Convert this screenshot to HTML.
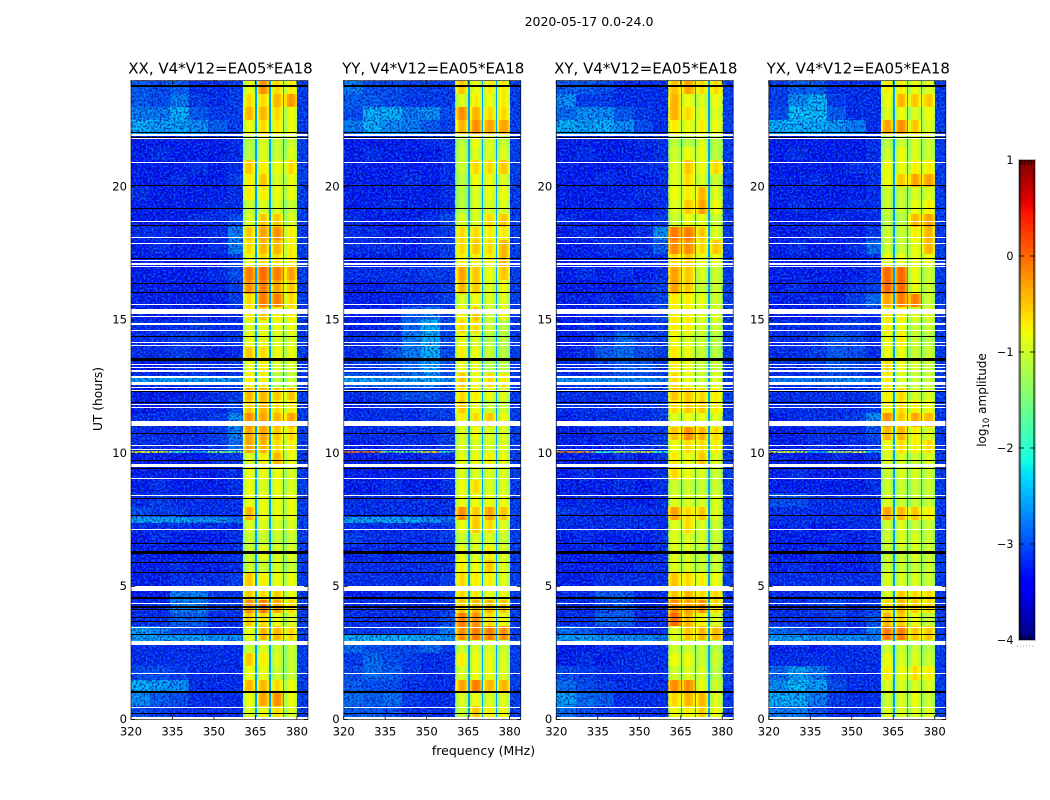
<!DOCTYPE html>
<html lang="en">
<head>
<meta charset="utf-8">
<title>2020-05-17 0.0-24.0</title>
<style>
html,body{margin:0;padding:0;background:#fff;width:1050px;height:800px;overflow:hidden}
svg{display:block}
text{font-family:"DejaVu Sans","Liberation Sans",sans-serif;fill:#000}
</style>
</head>
<body>
<svg id="chart" width="1050" height="800" viewBox="0 0 1050 800" xmlns="http://www.w3.org/2000/svg">
<defs>
<filter id="speckle-dark" x="0" y="0" width="100%" height="100%" color-interpolation-filters="sRGB">
<feTurbulence type="fractalNoise" baseFrequency="0.5" numOctaves="1" seed="4"/>
<feColorMatrix type="matrix" values="0 0 0 0 0  0 0 0 0 0.02  0 0 0 0 0.55  5 0 0 0 -2.2"/>
</filter>
<filter id="speckle-light" x="0" y="0" width="100%" height="100%" color-interpolation-filters="sRGB">
<feTurbulence type="fractalNoise" baseFrequency="0.5" numOctaves="1" seed="11"/>
<feColorMatrix type="matrix" values="0 0 0 0 0.1  0 0 0 0 0.62  0 0 0 0 1  5 0 0 0 -2.3"/>
</filter>
</defs>
<text x="589" y="26" font-size="12.5" text-anchor="middle">2020-05-17 0.0-24.0</text>
<text x="483.5" y="755" font-size="12.5" text-anchor="middle">frequency (MHz)</text>
<text transform="translate(102,399) rotate(-90)" font-size="12.2" text-anchor="middle">UT (hours)</text>
<text transform="translate(986,400) rotate(-90)" font-size="12" text-anchor="middle">log<tspan font-size="8.5" dy="3">10</tspan><tspan dy="-3"> amplitude</tspan></text>
<g id="panels"></g>
<g id="colorbar"></g>
</svg>
<script>
/* Axis ticks */
const freqTicks = [320, 335, 350, 365, 380];
const hourTicks = [0, 5, 10, 15, 20];
const colorbarTicks = [-4, -3, -2, -1, 0, 1];

/* Column definitions in MHz */
const backgroundEdges = [320, 327, 334, 341, 348, 355, 360.4];
const windowStarts = [360.4, 365.5, 370.5, 375.5];
const windowEnds = [365, 370, 375, 380.2];
const bandShape = [-0.35, -0.05, 0.05, 0.05, -0.05, -0.25];
const dipLevel = -2.6;
const tailLevel = -3.1;
const backgroundShift = -0.2;
const windowShift = 0.06;
const freqEnd = 384;

/* Row start times in hours, top to bottom; each row spans rowStep */
const rowStep = 0.5;
const rowHours = [23.5,23,22.5,22,21.5,21,20.5,20,19.5,19,18.5,18,17.5,17,16.5,16,15.5,15,14.5,14,13.5,13,12.5,12,11.5,11,10.5,10,9.5,9,8.5,8,7.5,7,6.5,6,5.5,5,4.5,4,3.5,3,2.5,2,1.5,1,0.5,0];

/* log10 amplitude per row: six background columns then four spectral windows */
const levelsXX = [
[-2.7,-2.8,-2.7,-3,-3,-2.9,-0.9,-0.3,-0.7,-0.8],
[-2.7,-2.8,-2.5,-2.9,-3,-2.9,-0.7,-0.7,-0.5,-0.35],
[-2.5,-2.5,-2.2,-2.7,-2.9,-2.9,-0.5,-0.5,-0.7,-0.9],
[-2.2,-2.3,-2.3,-2.4,-2.7,-2.9,-0.9,-0.7,-0.8,-0.9],
[-3.1,-3.1,-3.1,-3.1,-3.1,-3,-1.2,-1,-1.1,-1.1],
[-3.1,-3,-3.1,-3.1,-3.1,-3,-1.2,-1,-1.1,-1],
[-3.1,-3.1,-3.1,-3,-3.1,-3,-0.6,-0.8,-0.9,-0.7],
[-3.1,-3.1,-3,-3.1,-3.1,-2.9,-0.8,-0.6,-1,-0.9],
[-3,-3.1,-3.1,-3.1,-3.1,-3,-0.8,-0.8,-0.9,-0.9],
[-3.1,-3.1,-3.1,-3.1,-3,-3,-1.1,-1,-1,-1.1],
[-3.1,-3.1,-3.1,-3,-3,-2.8,-1,-0.6,-0.6,-1],
[-3,-3,-3.1,-3.1,-3,-2.5,-0.6,-0.4,-0.3,-0.8],
[-3.1,-3,-3.1,-3.1,-3,-2.5,-0.7,-0.5,-0.5,-0.8],
[-3.1,-3.1,-3.1,-3.1,-3.1,-2.9,-0.9,-0.7,-0.7,-0.8],
[-3.1,-3.1,-3.1,-3.1,-3,-2.8,-0.2,-0.1,-0.2,-0.4],
[-3.1,-3.1,-3.1,-3.1,-3.1,-2.9,-0.3,-0.2,-0.4,-0.6],
[-3.1,-3.1,-3.1,-3.1,-3.1,-2.9,-0.7,-0.2,-0.2,-0.7],
[-3.1,-3.1,-3.1,-3,-3.1,-3,-0.8,-0.6,-0.8,-0.8],
[-3,-3,-3,-2.9,-3,-3,-1,-0.9,-0.9,-0.9],
[-3,-3,-2.9,-2.9,-3,-2.9,-0.9,-0.9,-1,-1],
[-3,-3,-2.9,-3,-3.1,-3,-0.6,-0.7,-0.9,-0.9],
[-3.1,-3.1,-3,-3,-3,-2.9,-0.9,-0.8,-1,-1],
[-3,-3,-3,-2.9,-3,-2.9,-0.8,-0.8,-1.2,-1.1],
[-3.1,-3.1,-3.1,-3.1,-3,-2.9,-0.5,-0.5,-0.6,-0.6],
[-3.1,-3.1,-3,-3,-3,-2.8,-0.6,-0.5,-0.7,-0.8],
[-3,-3,-3,-3,-2.9,-2.4,-0.3,-0.4,-0.5,-0.4],
[-3,-3,-3,-3,-2.9,-2.5,-0.4,-0.4,-0.6,-0.7],
[-3,-3,-3,-3,-2.9,-2.6,-0.4,-0.5,-0.7,-0.8],
[-3.1,-3.1,-3.1,-3.1,-3,-2.9,-1,-0.8,-0.5,-0.9],
[-3.1,-3.1,-3.1,-3.1,-3.1,-3,-0.9,-0.9,-0.9,-1],
[-3.1,-3,-3.1,-3.1,-3.1,-3,-0.9,-1,-0.9,-1],
[-3,-2.9,-3,-3,-3,-3,-0.9,-0.9,-0.9,-0.9],
[-2.8,-2.9,-2.9,-3,-3,-3,-0.5,-0.9,-0.9,-0.9],
[-3,-3,-3,-3,-3,-3,-1,-1,-1,-1],
[-3.1,-3,-3.1,-3.1,-3.1,-3,-1.1,-1.1,-1.1,-1.1],
[-3.1,-3.1,-3.1,-3.1,-3,-3,-1.1,-0.9,-1,-1],
[-3.1,-3.1,-3,-3.1,-3.1,-3,-1.1,-1.1,-1,-1.1],
[-3.1,-3.1,-3,-3,-3,-2.9,-0.6,-0.8,-0.9,-0.9],
[-3.1,-3.1,-2.5,-2.5,-2.9,-2.9,-0.6,-0.7,-0.6,-0.9],
[-3,-3,-2.5,-2.5,-2.9,-2.9,-0.3,-0.2,-0.4,-0.7],
[-3,-3,-2.7,-2.7,-3,-3,-0.6,-0.7,-0.9,-1],
[-2.3,-2.5,-2.8,-2.8,-3,-3,-0.9,-0.5,-0.5,-0.7],
[-3,-3,-3,-3,-3,-3,-1.1,-1,-1.1,-1.1],
[-3,-3,-3,-3,-3,-3,-0.6,-0.8,-1,-1.1],
[-2.8,-2.8,-2.9,-3,-3,-3,-0.9,-0.9,-1.1,-1.1],
[-2.2,-2.3,-2.4,-3,-3,-3,-0.5,-0.5,-0.7,-0.9],
[-2.4,-2.7,-2.8,-3,-3,-3,-0.9,-0.4,-0.3,-0.9],
[-2.8,-2.9,-3,-3,-3,-3,-1,-0.9,-0.7,-1]
];
const levelsYY = [
[-2.5,-2.8,-2.8,-2.9,-2.9,-2.9,-0.6,-0.9,-0.8,-0.8],
[-2.7,-2.7,-2.8,-2.9,-2.9,-2.9,-1,-0.8,-0.9,-0.8],
[-2.8,-2.2,-2.2,-2.5,-2.4,-2.8,-0.3,-0.5,-0.7,-0.7],
[-2.5,-2.2,-2.4,-2.5,-2.7,-2.9,-0.5,-0.3,-0.4,-0.4],
[-3.1,-3.1,-3.1,-3.1,-3,-3,-1.2,-0.9,-1,-1.1],
[-3.1,-3,-3.1,-3.1,-3.1,-3,-1.1,-1,-1,-1],
[-3.1,-3.1,-3.1,-3.1,-3.1,-3,-1.1,-0.7,-0.7,-0.6],
[-3.1,-3.1,-3.1,-3,-3.1,-3,-1.2,-0.9,-0.9,-1],
[-3.1,-3.1,-3.1,-3.1,-3.1,-3,-1.2,-1,-0.9,-0.9],
[-3.1,-3.1,-3,-3.1,-3.1,-3,-1.2,-1,-1,-1],
[-3,-3.1,-3.1,-3.1,-3,-2.8,-1,-1,-0.7,-0.6],
[-3,-3,-3.1,-3.1,-3,-2.9,-0.7,-0.7,-0.8,-0.8],
[-3,-3,-3,-3.1,-3,-2.9,-0.7,-0.6,-0.7,-0.5],
[-3.1,-3.1,-3.1,-3.1,-3.1,-2.9,-0.8,-0.8,-0.8,-0.5],
[-3,-3,-3,-3,-2.9,-2.9,-0.4,-0.6,-0.9,-0.6],
[-3.1,-3.1,-3,-3,-3,-2.9,-0.5,-0.6,-1,-0.9],
[-3.1,-3.1,-3.1,-3,-3,-2.9,-1,-0.9,-1,-1],
[-3.1,-3.1,-3.1,-2.7,-2.5,-2.9,-0.8,-0.6,-1.1,-0.9],
[-3.1,-3.1,-3,-2.6,-2.2,-2.8,-0.7,-0.7,-1.1,-1.2],
[-3,-3,-2.9,-2.5,-2.2,-2.8,-0.9,-1,-1.2,-1.2],
[-3,-3,-2.8,-2.5,-2.2,-2.8,-0.8,-0.9,-1.1,-1.2],
[-2.9,-2.9,-2.8,-2.6,-2.3,-2.8,-0.9,-0.9,-1.2,-1.2],
[-2.7,-2.7,-2.7,-2.6,-2.4,-2.8,-0.6,-0.9,-0.7,-0.8],
[-3,-3,-2.9,-2.8,-2.8,-2.9,-0.7,-0.8,-0.9,-1],
[-3.1,-3,-3,-3,-2.9,-2.9,-0.6,-0.9,-1.1,-1.1],
[-3,-3,-3,-3,-2.9,-2.9,-0.8,-0.7,-0.6,-0.9],
[-3,-3,-3,-3,-3,-2.9,-1,-0.9,-1,-1],
[-3.1,-3.1,-3,-3,-3,-2.9,-1,-1,-1,-1],
[-3.1,-3.1,-3.1,-3.1,-3,-3,-0.9,-0.9,-0.8,-0.9],
[-3.1,-3.1,-3.1,-3.1,-3.1,-3,-1,-1,-1,-1],
[-3.1,-3.1,-3,-3.1,-3.1,-3,-0.9,-0.7,-1,-1],
[-3,-3,-3,-3,-3,-3,-0.9,-0.9,-0.9,-0.9],
[-3,-3,-3,-3,-3,-3,-0.3,-0.6,-0.4,-0.6],
[-3,-3,-3,-3,-3,-2.9,-0.9,-0.6,-0.7,-1],
[-2.9,-3,-3,-3,-3,-2.9,-1.1,-1,-1,-1.1],
[-3.1,-3,-3.1,-3,-3,-3,-0.9,-1,-0.8,-1],
[-3,-3,-3,-3,-3,-3,-0.8,-0.9,-0.6,-1],
[-3,-3,-3,-3,-3,-2.9,-0.7,-0.8,-0.8,-1],
[-3.1,-3.1,-3,-3,-3,-2.9,-0.7,-0.8,-0.9,-0.9],
[-3,-3,-3,-3,-3,-2.9,-0.6,-0.5,-0.5,-0.6],
[-3,-3,-3,-3,-3,-2.8,-0.2,-0.3,-0.7,-0.9],
[-2.9,-2.9,-2.9,-2.9,-2.8,-2.5,-0.3,-0.2,-0.2,-0.3],
[-2.6,-2.8,-2.8,-2.8,-2.6,-2.9,-1.1,-1,-1,-1.1],
[-2.9,-2.6,-2.8,-2.9,-3,-3,-0.8,-0.9,-0.9,-1],
[-2.8,-2.6,-2.7,-2.9,-3,-3,-1,-0.9,-0.9,-1],
[-2.7,-2.8,-2.8,-3,-3,-3,-0.4,-0.2,-0.5,-0.5],
[-2.6,-2.7,-2.6,-2.9,-3,-3,-1,-0.9,-1,-1],
[-2.7,-2.7,-2.8,-3,-3,-3,-1.1,-0.6,-0.8,-0.9]
];
const levelsXY = [
[-2.7,-2.7,-2.8,-3,-3,-3,-0.6,-0.4,-0.7,-0.7],
[-2.4,-2.9,-2.9,-3,-3,-3,-0.5,-0.9,-1,-0.9],
[-2.6,-2.4,-2.4,-2.7,-2.9,-3,-0.5,-0.7,-0.9,-1],
[-2.2,-2.3,-2.2,-2.4,-2.8,-3,-0.8,-0.9,-0.8,-0.9],
[-3.1,-3.1,-3.1,-3.1,-3,-3,-1.2,-1.2,-1,-1.2],
[-3.1,-3,-3.1,-3.1,-3.1,-3,-1.1,-0.9,-0.9,-1.2],
[-3.1,-3.1,-3.1,-3.1,-3,-3,-1,-0.6,-0.9,-0.7],
[-3.1,-3.1,-3,-3.1,-3.1,-3,-1,-0.7,-1,-1.1],
[-3.1,-3.1,-3.1,-3.1,-3,-3,-0.9,-0.8,-0.5,-1],
[-3.1,-3.1,-3.1,-3,-3.1,-3,-1,-0.6,-0.4,-0.9],
[-3,-3.1,-3.1,-3.1,-3,-2.9,-1.1,-0.9,-0.9,-1.1],
[-3.1,-3,-3.1,-3.1,-3,-2.4,-0.2,-0.2,-0.6,-1],
[-3.1,-3.1,-3,-3,-3,-2.7,-0.3,-0.3,-0.7,-0.6],
[-3.1,-3.1,-3.1,-3.1,-3,-3,-0.7,-0.6,-0.9,-0.9],
[-3.1,-3,-3.1,-3,-3.1,-3,-0.4,-0.6,-1,-1.1],
[-3.1,-3.1,-3.1,-3.1,-3,-2.9,-0.4,-0.6,-1.1,-1.1],
[-3.1,-3.1,-3,-3.1,-3,-2.9,-0.8,-0.8,-0.9,-1.1],
[-3.1,-3.1,-3.1,-3,-3,-2.8,-0.8,-0.8,-1,-1],
[-3.1,-3,-3.1,-2.9,-3,-2.9,-0.8,-0.8,-1,-1.1],
[-3.1,-3.1,-2.9,-2.6,-2.8,-2.9,-0.9,-1,-1.1,-1.2],
[-3.1,-3,-2.7,-2.6,-2.8,-2.9,-0.8,-0.9,-1.1,-1.2],
[-3,-3,-2.9,-2.7,-2.7,-2.9,-0.8,-0.9,-1.1,-1.1],
[-3,-3,-2.9,-2.8,-2.8,-2.9,-0.7,-0.9,-1.1,-1],
[-3,-3,-3,-3,-2.9,-2.9,-0.6,-0.6,-0.7,-0.8],
[-3,-3,-3,-3,-3,-2.9,-0.7,-0.6,-0.6,-0.8],
[-3.1,-3,-3,-3,-3,-2.9,-1,-0.9,-0.9,-1],
[-3.1,-3.1,-3,-3,-3,-2.9,-0.6,-0.3,-0.5,-0.7],
[-3.1,-3.1,-3.1,-3,-3,-2.9,-0.9,-0.7,-0.7,-0.8],
[-3.1,-3.1,-3.1,-3,-3.1,-3,-0.8,-0.9,-0.6,-1],
[-3.1,-3,-3.1,-3.1,-3.1,-3,-0.7,-0.9,-1,-1.1],
[-3.1,-3.1,-3.1,-3,-3.1,-3,-1.1,-1.1,-1.1,-1.1],
[-3.1,-3,-3.1,-3.1,-3.1,-3,-1,-1,-1,-1],
[-2.9,-3,-3,-3,-3,-3,-0.4,-0.7,-0.6,-1],
[-3,-3,-3,-3,-3,-3,-1,-0.7,-1,-1.1],
[-3.1,-3,-3.1,-3.1,-3.1,-3,-1,-1,-1,-1.1],
[-3.1,-3.1,-3,-3.1,-3.1,-3,-1,-1,-1.1,-1.1],
[-3.1,-3.1,-3.1,-3.1,-3,-3,-1,-1,-1.1,-1.1],
[-3.1,-3.1,-3,-3,-3,-3,-0.6,-0.7,-0.8,-0.9],
[-3,-3,-2.7,-2.7,-3,-3,-0.6,-0.5,-0.7,-0.7],
[-3,-3,-2.8,-2.7,-3,-3,-0.3,-0.4,-0.3,-0.7],
[-3,-3,-2.7,-2.7,-3,-3,-0.1,-0.5,-0.8,-1],
[-2.6,-2.7,-2.9,-3,-3,-3,-1,-0.6,-0.5,-0.5],
[-3.1,-3.1,-3,-3.1,-3,-3,-1.1,-1.1,-1.1,-1.2],
[-3.1,-3,-3.1,-3,-3,-3,-0.9,-0.9,-1.1,-1.1],
[-2.8,-2.9,-3,-3,-3,-3,-1.1,-1,-1,-1.2],
[-2.6,-2.8,-2.9,-3,-3,-3,-0.3,-0.3,-0.9,-1.1],
[-2.3,-2.6,-2.7,-3,-3,-3,-0.7,-0.5,-0.5,-1],
[-2.6,-2.8,-2.9,-3,-3,-3,-0.9,-0.8,-0.6,-0.9]
];
const levelsYX = [
[-2.9,-2.7,-2.7,-3,-3,-3,-0.8,-0.8,-0.9,-1],
[-2.9,-2.4,-2.2,-2.9,-3,-3,-0.9,-0.5,-0.6,-0.6],
[-2.8,-2.1,-2.1,-2.7,-3,-3,-1,-0.9,-1,-0.9],
[-2.2,-2.2,-2.2,-2.3,-2.5,-3,-0.4,-0.3,-0.6,-1],
[-3.1,-3.1,-3.1,-3.1,-3.1,-3,-1.2,-1.1,-1,-1.1],
[-3.1,-3,-3.1,-3.1,-3.1,-3,-1.1,-0.9,-1,-1.1],
[-3.1,-3.1,-3.1,-3.1,-3,-3,-0.9,-0.9,-0.8,-0.8],
[-3.1,-3.1,-3,-3.1,-3.1,-3,-0.9,-0.6,-0.4,-0.4],
[-3.1,-3.1,-3.1,-3.1,-3.1,-3,-1.1,-1.1,-1,-1],
[-3.1,-3,-3.1,-3.1,-3,-3,-1.1,-1.1,-0.9,-0.8],
[-3.1,-3.1,-3.1,-3,-3.1,-3,-1.2,-1.2,-0.5,-0.4],
[-3.1,-3.1,-3,-3.1,-3.1,-2.9,-1.1,-1.1,-0.8,-0.5],
[-3.1,-3,-3.1,-3.1,-3,-2.6,-1.1,-1.1,-0.9,-0.5],
[-3.1,-3.1,-3.1,-3.1,-3.1,-3,-0.9,-0.9,-0.9,-0.9],
[-3.1,-3.1,-3.1,-3.1,-3.1,-3,-0.1,-0.1,-0.9,-1.1],
[-3.1,-3,-3.1,-3.1,-3,-2.9,-0.1,-0.1,-0.9,-1.1],
[-3.1,-3.1,-3,-3.1,-2.9,-2.6,-0.4,-0.2,-0.2,-1.1],
[-3.1,-3.1,-3.1,-3,-3,-3,-0.8,-0.8,-1,-1],
[-3,-3,-3,-2.9,-2.9,-3,-0.8,-0.9,-1.1,-1.1],
[-3,-3,-2.9,-2.7,-2.8,-3,-0.9,-0.8,-1.1,-1.2],
[-3,-3,-2.9,-2.7,-2.8,-3,-0.9,-0.9,-1.1,-1.1],
[-3,-3,-2.9,-2.7,-2.8,-2.9,-0.7,-0.9,-1,-1.1],
[-3,-3,-2.9,-2.8,-2.9,-3,-0.8,-1,-1.1,-1.1],
[-3,-3,-3,-3,-3,-2.9,-0.8,-0.7,-1,-1],
[-3,-3,-3,-3,-3,-2.9,-0.8,-0.7,-0.8,-0.9],
[-3.1,-3,-3,-3,-2.9,-2.4,-0.3,-0.6,-0.4,-0.5],
[-3.1,-3.1,-3,-3,-3,-2.8,-0.5,-0.5,-0.8,-1],
[-3.1,-3.1,-3,-3.1,-3,-2.9,-0.9,-0.7,-0.8,-0.7],
[-3.1,-3.1,-3.1,-3,-3.1,-3,-1,-1,-1.1,-1],
[-3.1,-3,-3.1,-3.1,-3.1,-3,-1.1,-1,-1,-1.1],
[-3.1,-3.1,-3.1,-3.1,-3.1,-3,-1.1,-1.1,-1.1,-1.1],
[-2.8,-2.8,-3,-3,-3,-3,-1,-1.1,-1.1,-1.1],
[-3,-3,-3,-3,-3,-3,-0.4,-0.5,-0.6,-0.8],
[-3.1,-3,-3.1,-3.1,-3,-3,-1.1,-1,-1.1,-1.1],
[-3.1,-3.1,-3.1,-3,-3.1,-3,-1.1,-1,-1,-1.1],
[-3.1,-3.1,-3,-3.1,-3.1,-3,-1.1,-1.1,-1,-1.1],
[-3.1,-3,-3.1,-3.1,-3.1,-3,-1.1,-1.1,-1.1,-1.1],
[-3,-3,-3,-3,-3,-3,-1,-1,-1,-1.1],
[-3,-3,-2.9,-2.9,-3,-3,-1,-0.6,-0.7,-0.7],
[-3,-3,-2.9,-2.8,-3,-2.9,-0.7,-0.5,-0.6,-0.7],
[-3,-3,-3,-2.9,-3,-2.8,-0.5,-0.6,-0.9,-1.1],
[-2.6,-2.7,-2.9,-2.9,-2.9,-2.5,-0.2,-0.2,-0.6,-0.6],
[-3.1,-3,-3.1,-3,-3,-3,-1.1,-1.1,-1.1,-1.2],
[-3,-3,-3,-3,-3,-3,-0.9,-1,-1,-1.1],
[-2.6,-2.3,-2.5,-2.9,-3,-3,-0.8,-0.9,-0.7,-0.8],
[-2.4,-2.1,-2.3,-2.8,-3,-3,-1,-1,-1,-1],
[-2.2,-2.2,-2.5,-2.9,-3,-3,-1.1,-1,-0.9,-1.1],
[-2.5,-2.5,-2.8,-3,-3,-3,-1,-1,-1,-1]
];

/* Narrow time bands over the six background columns */
const bandHours = [12.78, 10.04, 7.49, 3.08];
const bandSpans = [0.2, 0.06, 0.22, 0.25];
const bandsXX = [[-2.5,-2.5,-2.5,-2.5,-2.5,-2.6],[-0.8,-0.8,-1.9,-2.5,-1.5,-1.6],[-2.5,-2.5,-2.5,-2.6,-2.6,-2.8],[-2.5,-2.5,-2.5,-2.5,-2.6,-2.6]];
const bandsYY = [[-2.5,-2.5,-2.5,-2.5,-2.4,-2.6],[0,-0.1,-1.7,-1.5,-0.6,-2],[-2.5,-2.5,-2.5,-2.5,-2.6,-2.8],[-2.4,-2.4,-2.4,-2.4,-2.5,-2.6]];
const bandsXY = [[-2.6,-2.6,-2.6,-2.6,-2.6,-2.7],[-0.1,-0.3,-2,-1.2,-0.8,-2],[-3.2,-3.2,-3.2,-3.2,-3.2,-3.2],[-2.5,-2.5,-2.6,-2.6,-2.6,-2.7]];
const bandsYX = [[-2.7,-2.7,-2.7,-2.6,-2.6,-2.7],[-0.9,-1,-2.5,-1.2,-1,-2.4],[-3.2,-3.2,-3.2,-3.2,-3.2,-3.2],[-2.5,-2.5,-2.6,-2.6,-2.6,-2.7]];

/* Flagged (blank) time ranges: centre hour and span in hours */
const whiteHours = [21.96,21.81,20.92,18.71,18.11,17.88,17.24,17.12,17.03,15.59,15.33,15.15,14.86,14.61,14.15,14.06,13.33,13.22,13.09,12.86,12.61,12.48,12.37,11.83,11.73,11.12,10.3,10.15,9.53,9.06,8.41,7.14,5.88,4.92,4.37,3.46,2.87,1.73,0.46,0.055];
const whiteSpans = [0.056,0.04,0.04,0.04,0.04,0.04,0.04,0.075,0.04,0.04,0.2,0.04,0.086,0.04,0.04,0.04,0.04,0.04,0.04,0.056,0.124,0.04,0.04,0.04,0.04,0.176,0.04,0.04,0.124,0.04,0.04,0.04,0.04,0.176,0.04,0.04,0.16,0.04,0.04,0.11];
const blackHours = [23.79,22.04,21.87,20.06,19.2,18.56,17.31,16.38,16.04,14.39,13.52,12.31,11.9,10.75,9.73,9.43,8.31,7.66,6.62,6.26,5.9,5.53,4.56,4.22,4.13,3.82,3.69,3.2,1.03,0.23];
const blackSpans = [0.045,0.05,0.04,0.05,0.05,0.05,0.05,0.05,0.05,0.05,0.1,0.05,0.05,0.05,0.05,0.05,0.05,0.05,0.05,0.1,0.05,0.05,0.05,0.06,0.06,0.05,0.05,0.05,0.1,0.05];

/* Panels */
const panelTitles = ["XX, V4*V12=EA05*EA18","YY, V4*V12=EA05*EA18","XY, V4*V12=EA05*EA18","YX, V4*V12=EA05*EA18"];
const panelKeys = ["xx","yy","xy","yx"];
const panelLevels = [levelsXX, levelsYY, levelsXY, levelsYX];
const panelBands = [bandsXX, bandsYY, bandsXY, bandsYX];

const SVGNS = "http://www.w3.org/2000/svg";
const plotLefts = [131, 343.7, 556.3, 768.8];
const plotWidth = 177;
const plotBottom = 719.5;
const plotTop = 80.5;
const hourMax = 24, freqMin = 320, freqMax = 384;
const vMin = -4, vMax = 1;

function yScale(h){ return plotBottom - (h / hourMax) * (plotBottom - plotTop); }
function xScale(left, f){ return left + (f - freqMin) / (freqMax - freqMin) * plotWidth; }

function interp(t, pts){
  for (let i = 1; i < pts.length; i++) {
    if (t <= pts[i][0]) {
      const a = pts[i-1], b = pts[i];
      return a[1] + (b[1] - a[1]) * (t - a[0]) / (b[0] - a[0]);
    }
  }
  return pts[pts.length-1][1];
}
const jetR = [[0,0],[0.35,0],[0.66,1],[0.89,1],[1,0.5]];
const jetG = [[0,0],[0.125,0],[0.375,1],[0.64,1],[0.91,0],[1,0]];
const jetB = [[0,0.5],[0.11,1],[0.34,1],[0.65,0],[1,0]];
function jet(v){
  const t = Math.max(0, Math.min(1, (v - vMin) / (vMax - vMin)));
  return "rgb(" + Math.round(255*interp(t,jetR)) + "," + Math.round(255*interp(t,jetG)) + "," + Math.round(255*interp(t,jetB)) + ")";
}
function make(tag, attrs, parent){
  const el = document.createElementNS(SVGNS, tag);
  for (const k in attrs) el.setAttribute(k, attrs[k]);
  parent.appendChild(el);
  return el;
}
function cell(parent, f0, f1, hTop, hBottom, left, v){
  const x0 = Math.round(xScale(left, f0)), x1 = Math.round(xScale(left, f1));
  const y0 = Math.round(yScale(hTop)), y1 = Math.round(yScale(hBottom));
  const r = make("rect", {x:x0, y:y0, width:Math.max(1,x1-x0), height:Math.max(1,y1-y0), fill:jet(v), "shape-rendering":"crispEdges"}, parent);
  
  
  return r;
}

const panelsRoot = document.getElementById("panels");
panelKeys.forEach(function(key, p){
  const L = plotLefts[p];
  const g = make("g", {}, panelsRoot);
  
  

  const cells = make("g", {}, g);
  
  

  rowHours.forEach(function(h, r){
    const row = panelLevels[p][r];
    const top = h + rowStep;
    for (let c = 0; c < backgroundEdges.length - 1; c++) {
      cell(cells, backgroundEdges[c], backgroundEdges[c+1], top, h, L, row[c] + backgroundShift);
    }
    windowStarts.forEach(function(start, w){
      const end = windowEnds[w];
      const n = bandShape.length;
      for (let k = 0; k < n; k++) {
        const a = start + (end - start) * k / n;
        const b = start + (end - start) * (k + 1) / n;
        cell(cells, a, b, top, h, L, row[6 + w] + windowShift + bandShape[k]);
      }
      if (w < windowStarts.length - 1) {
        cell(cells, end, windowStarts[w+1], top, h, L, dipLevel);
      }
    });
    cell(cells, windowEnds[windowEnds.length-1], freqEnd, top, h, L, tailLevel);
  });

  bandHours.forEach(function(h, b){
    const span = bandSpans[b];
    for (let c = 0; c < backgroundEdges.length - 1; c++) {
      cell(cells, backgroundEdges[c], backgroundEdges[c+1], h + span/2, h - span/2, L, panelBands[p][b][c]);
    }
  });

  /* decorative speckle over the noisy background columns */
  const bgW = xScale(L, 360.4) - L;
  const tailX = xScale(L, 380.2);
  [["speckle-dark",0.7],["speckle-light",0.45]].forEach(function(s){
    const a = make("rect", {x:L, y:plotTop, width:bgW, height:plotBottom-plotTop, filter:"url(#"+s[0]+")", opacity:s[1]}, g);
    
    
    const t = make("rect", {x:tailX, y:plotTop, width:L+plotWidth-tailX, height:plotBottom-plotTop, filter:"url(#"+s[0]+")", opacity:s[1]}, g);
    
    
  });

  whiteHours.forEach(function(h, i){
    const y0 = Math.round(yScale(h + whiteSpans[i]/2));
    const y1 = Math.round(yScale(h - whiteSpans[i]/2));
    const f = make("rect", {x:L, y:y0, width:plotWidth, height:Math.max(1,y1-y0), fill:"#fff", "shape-rendering":"crispEdges"}, g);
    
    
  });
  blackHours.forEach(function(h, i){
    const y0 = Math.round(yScale(h + blackSpans[i]/2));
    const y1 = Math.round(yScale(h - blackSpans[i]/2));
    const f = make("rect", {x:L, y:y0, width:plotWidth, height:Math.max(1,y1-y0), fill:"#000", "shape-rendering":"crispEdges"}, g);
    
    
  });

  freqTicks.forEach(function(f){
    const x = xScale(L, f);
    const t1 = make("line", {x1:x, x2:x, y1:plotBottom, y2:plotBottom-4, stroke:"#000", "stroke-width":0.8}, g);
    
    
    const t2 = make("line", {x1:x, x2:x, y1:plotTop, y2:plotTop+4, stroke:"#000", "stroke-width":0.8}, g);
    
    
    const lab = make("text", {x:x, y:735.5, "font-size":11.6, "text-anchor":"middle"}, g);
    
    
    lab.textContent = String(f);
  });
  hourTicks.forEach(function(h){
    const y = yScale(h);
    const t1 = make("line", {x1:L, x2:L+4, y1:y, y2:y, stroke:"#000", "stroke-width":0.8}, g);
    
    
    const t2 = make("line", {x1:L+plotWidth, x2:L+plotWidth-4, y1:y, y2:y, stroke:"#000", "stroke-width":0.8}, g);
    
    
    const lab = make("text", {x:L-4, y:y+3.6, "font-size":11.6, "text-anchor":"end"}, g);
    
    
    lab.textContent = String(h);
  });

  const frame = make("rect", {x:L, y:plotTop, width:plotWidth, height:plotBottom-plotTop, fill:"none", stroke:"#000", "stroke-width":1, "stroke-opacity":0.6}, g);
  
  

  const title = make("text", {x:L+plotWidth/2+1, y:73.5, "font-size":15, "text-anchor":"middle"}, g);
  
  
  title.textContent = panelTitles[p];
});

/* Colorbar */
const cb = document.getElementById("colorbar");
const cbX = 1019, cbW = 16, cbTop = 160, cbBottom = 640;
function cbY(v){ return cbBottom - (v - vMin) / (vMax - vMin) * (cbBottom - cbTop); }
for (let y = cbTop; y < cbBottom; y++) {
  const v = vMax - (y + 0.5 - cbTop) / (cbBottom - cbTop) * (vMax - vMin);
  const s = make("rect", {x:cbX, y:y, width:cbW, height:1, fill:jet(v), "shape-rendering":"crispEdges"}, cb);
  
  
}
colorbarTicks.forEach(function(v){
  const y = cbY(v);
  const t1 = make("line", {x1:cbX, x2:cbX+5, y1:y, y2:y, stroke:"#000", "stroke-width":0.8}, cb);
  
  
  const t2 = make("line", {x1:cbX+cbW-5, x2:cbX+cbW, y1:y, y2:y, stroke:"#000", "stroke-width":0.8}, cb);
  
  
  const lab = make("text", {x:1013.5, y:y+4, "font-size":11.2, "text-anchor":"end"}, cb);
  
  
  lab.textContent = v < 0 ? "\u2212" + Math.abs(v) : String(v);
});
const cbMinor = make("path", {d:"M1022 160v5M1025 160v5M1028 160v5M1031 160v5M1022 640v-5M1025 640v-5M1028 640v-5M1031 640v-5", stroke:"#000", "stroke-width":0.8, fill:"none"}, cb);


const cbInner = make("rect", {x:cbX+1, y:cbTop, width:cbW-2, height:cbBottom-cbTop, fill:"none", stroke:"#000", "stroke-width":1}, cb);


const cbFrame = make("rect", {x:cbX-0.5, y:cbTop-0.5, width:cbW+1, height:cbBottom-cbTop+1, fill:"none", stroke:"#bbb", "stroke-width":1}, cb);


const cbDots = make("line", {x1:1017, x2:1035, y1:646, y2:646, stroke:"#999", "stroke-width":1, "stroke-dasharray":"1 2"}, cb);


</script>
</body>
</html>
